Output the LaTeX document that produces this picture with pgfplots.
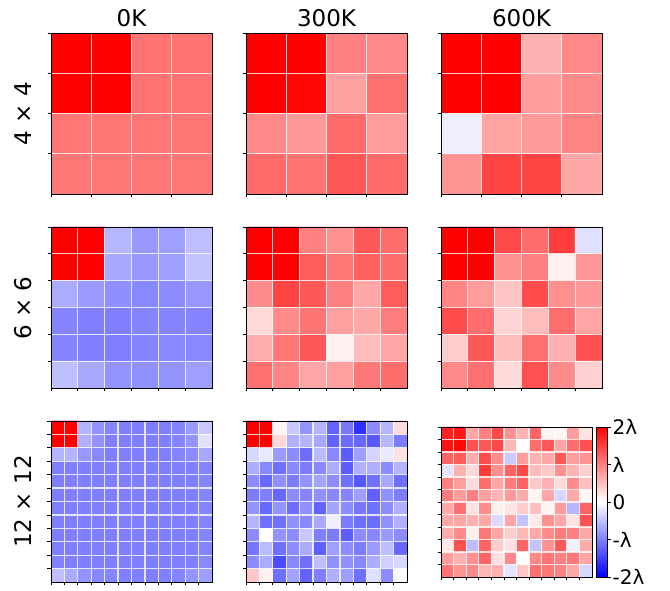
\documentclass[border=0pt]{standalone}
\usepackage{pgfplots}
\pgfplotsset{compat=1.18}
\usepackage{fontspec}
\setmainfont{DejaVu Sans}

\pgfplotsset{
  colormap={bwr}{rgb255=(0,0,255) rgb255=(255,255,255) rgb255=(255,0,0)},
  cell/.style={
    scale only axis, anchor=north west,
    width=161pt, height=161pt,
    point meta min=-2, point meta max=2,
    y dir=reverse, axis on top,
    enlargelimits=false,
    tick align=outside, tick pos=left,
    xticklabels={}, yticklabels={},
    major tick length=3.5pt,
    minor tick length=0pt,
    grid=minor,
    minor grid style={white, line width=1.3pt, opacity=0.8},
    axis line style={line width=0.8pt},
    every tick/.append style={black, line width=0.8pt},
  },
  n4/.style={xmin=-0.5, xmax=3.5, ymin=-0.5, ymax=3.5,
    xtick={-0.5,0.5,1.5,2.5}, ytick={-0.5,0.5,1.5,2.5},
    minor xtick={0.5,1.5,2.5}, minor ytick={0.5,1.5,2.5}},
  n6/.style={xmin=-0.5, xmax=5.5, ymin=-0.5, ymax=5.5,
    xtick={-0.5,0.5,...,4.5}, ytick={-0.5,0.5,...,4.5},
    minor xtick={0.5,1.5,...,4.5}, minor ytick={0.5,1.5,...,4.5}},
  n12/.style={xmin=-0.5, xmax=11.5, ymin=-0.5, ymax=11.5,
    xtick={-0.5,0.5,...,10.5}, ytick={-0.5,0.5,...,10.5},
    minor xtick={0.5,1.5,...,10.5}, minor ytick={0.5,1.5,...,10.5}},
}

% one matrix per call: values in units of lambda, listed row by row;
% row = floor((k+0.5)/n), column = k - n*row for the k-th value
\newcommand{\cells}[2]{%
  \addplot[matrix plot*, mesh/cols=#1, point meta=explicit]
    table[row sep=\\,
      y expr={floor((\coordindex+0.5)/#1)},
      x expr={\coordindex-#1*floor((\coordindex+0.5)/#1)},
      meta=c] {#2};
}

\begin{document}
\begin{tikzpicture}
\path[use as bounding box] (0,0) rectangle (670pt,591pt);

% ---------- 4 x 4 ----------
\begin{axis}[cell, n4, at={(51pt,558pt)}]
\cells{4}{c\\
2\\ 2\\ 1.1\\ 1.1\\
2\\ 2\\ 1.1\\ 1.1\\
1.08\\ 1.08\\ 1.08\\ 1.08\\
1.06\\ 1.06\\ 1.06\\ 1.06\\}
\end{axis}

\begin{axis}[cell, n4, at={(246pt,558pt)}]
\cells{4}{c\\
2\\ 2\\ 1.0\\ 0.93\\
2\\ 1.95\\ 0.75\\ 1.12\\
0.93\\ 0.8\\ 1.17\\ 0.78\\
1.17\\ 1.1\\ 1.33\\ 1.17\\}
\end{axis}

\begin{axis}[cell, n4, at={(441pt,558pt)}]
\cells{4}{c\\
2\\ 2\\ 0.62\\ 0.93\\
2\\ 2\\ 0.78\\ 0.9\\
-0.13\\ 0.72\\ 0.79\\ 0.96\\
0.84\\ 1.47\\ 1.47\\ 0.68\\}
\end{axis}

% ---------- 6 x 6 ----------
\begin{axis}[cell, n6, at={(51pt,364pt)}]
\cells{6}{c\\
2\\ 2\\ -0.56\\ -0.81\\ -0.75\\ -0.5\\
2\\ 2\\ -0.68\\ -0.81\\ -0.75\\ -0.46\\
-0.65\\ -0.78\\ -0.88\\ -0.93\\ -0.9\\ -0.81\\
-0.96\\ -1.0\\ -1.0\\ -0.96\\ -0.96\\ -0.96\\
-0.96\\ -1.0\\ -1.01\\ -0.96\\ -0.93\\ -0.93\\
-0.5\\ -0.68\\ -0.84\\ -0.87\\ -0.84\\ -0.75\\}
\end{axis}

\begin{axis}[cell, n6, at={(246pt,364pt)}]
\cells{6}{c\\
2\\ 2\\ 1.0\\ 0.87\\ 1.31\\ 1.15\\
2\\ 2\\ 1.28\\ 1.06\\ 1.25\\ 1.15\\
0.9\\ 1.47\\ 1.31\\ 1.0\\ 0.68\\ 1.28\\
0.31\\ 0.9\\ 1.09\\ 0.75\\ 0.68\\ 1.03\\
0.65\\ 1.06\\ 1.31\\ 0.12\\ 0.53\\ 0.71\\
1.12\\ 0.96\\ 0.71\\ 0.75\\ 1.06\\ 1.15\\}
\end{axis}

\begin{axis}[cell, n6, at={(441pt,364pt)}]
\cells{6}{c\\
2\\ 2\\ 1.44\\ 1.15\\ 1.53\\ -0.24\\
2\\ 2\\ 0.87\\ 1.0\\ 0.12\\ 0.81\\
0.96\\ 0.78\\ 0.46\\ 1.4\\ 0.87\\ 0.81\\
1.4\\ 1.15\\ 0.34\\ 0.53\\ 1.15\\ 0.71\\
0.4\\ 1.31\\ 0.53\\ 1.12\\ 0.62\\ 1.37\\
0.93\\ 1.12\\ 0.28\\ 1.37\\ 0.9\\ 0.37\\}
\end{axis}

% ---------- 12 x 12 ----------
\begin{axis}[cell, n12, at={(51pt,170pt)}]
\cells{12}{c\\
2\\ 2\\ -0.59\\ -0.84\\ -0.96\\ -1.0\\ -1.0\\ -1.0\\ -1.0\\ -0.96\\ -0.78\\ -0.43\\
2\\ 2\\ -0.62\\ -0.84\\ -1.0\\ -1.0\\ -1.0\\ -1.01\\ -1.0\\ -0.96\\ -0.84\\ -0.24\\
-0.59\\ -0.59\\ -0.81\\ -0.93\\ -1.0\\ -1.0\\ -1.0\\ -1.0\\ -1.0\\ -0.96\\ -0.9\\ -0.68\\
-1.0\\ -1.0\\ -1.0\\ -1.0\\ -1.0\\ -1.0\\ -1.0\\ -1.0\\ -1.0\\ -1.0\\ -1.0\\ -0.96\\
-1.0\\ -1.0\\ -1.0\\ -1.0\\ -1.0\\ -1.0\\ -1.0\\ -1.0\\ -1.0\\ -1.0\\ -1.0\\ -0.96\\
-1.0\\ -1.0\\ -1.0\\ -1.0\\ -1.0\\ -1.0\\ -1.0\\ -1.0\\ -1.0\\ -1.0\\ -1.0\\ -0.96\\
-1.0\\ -1.0\\ -1.0\\ -1.0\\ -1.0\\ -1.0\\ -1.0\\ -1.0\\ -1.0\\ -1.0\\ -1.0\\ -0.96\\
-1.0\\ -1.0\\ -1.0\\ -1.0\\ -1.0\\ -1.0\\ -1.0\\ -1.0\\ -1.0\\ -1.0\\ -1.0\\ -0.96\\
-1.0\\ -1.0\\ -1.0\\ -1.0\\ -1.0\\ -1.0\\ -1.0\\ -1.0\\ -1.0\\ -1.0\\ -1.0\\ -0.96\\
-1.0\\ -1.0\\ -1.0\\ -1.0\\ -1.0\\ -1.0\\ -1.0\\ -1.0\\ -1.0\\ -1.0\\ -1.0\\ -0.96\\
-0.98\\ -1.0\\ -1.0\\ -1.0\\ -1.0\\ -1.0\\ -1.0\\ -1.0\\ -1.0\\ -1.0\\ -1.0\\ -0.93\\
-0.5\\ -0.65\\ -0.84\\ -0.93\\ -0.96\\ -1.0\\ -1.0\\ -1.0\\ -1.0\\ -0.96\\ -0.84\\ -0.75\\}
\end{axis}

\begin{axis}[cell, n12, at={(246pt,170pt)}]
\cells{12}{c\\
2\\ 2\\ 0.09\\ -0.43\\ -0.84\\ -0.59\\ -1.22\\ -1.06\\ -1.62\\ -0.9\\ -0.56\\ 0.28\\
2\\ 2\\ 0.31\\ -0.62\\ -0.59\\ -0.68\\ -1.22\\ -1.15\\ -1.18\\ -1.31\\ -0.56\\ -1.03\\
-0.31\\ -0.18\\ -0.78\\ -0.9\\ -1.15\\ -0.53\\ -0.93\\ -1.28\\ -0.75\\ -0.34\\ -0.18\\ 0.22\\
-0.65\\ -0.93\\ -1.12\\ -0.93\\ -1.03\\ -0.93\\ -0.65\\ -1.28\\ -0.62\\ -0.62\\ -0.9\\ -0.59\\
-0.9\\ -1.18\\ -0.87\\ -1.03\\ -0.84\\ -0.71\\ -0.9\\ -1.12\\ -1.31\\ -1.12\\ -0.68\\ -1.12\\
-1.03\\ -1.0\\ -1.18\\ -0.9\\ -0.96\\ -0.87\\ -0.93\\ -0.96\\ -0.75\\ -1.25\\ -0.87\\ -1.03\\
-0.84\\ -1.18\\ -0.84\\ -1.15\\ -0.87\\ -1.22\\ -0.71\\ -0.9\\ -1.06\\ -1.12\\ -0.9\\ -0.62\\
-0.59\\ -1.12\\ -1.12\\ -0.87\\ -0.93\\ -0.68\\ -0.13\\ -1.03\\ -1.12\\ -1.15\\ -0.87\\ -0.62\\
-0.9\\ 0.0\\ -0.84\\ -0.9\\ -0.43\\ -1.0\\ -1.03\\ -1.28\\ -0.9\\ -0.93\\ -0.78\\ -0.9\\
-1.09\\ -0.53\\ -1.12\\ -0.9\\ -0.65\\ -1.25\\ -0.75\\ -0.9\\ -1.03\\ -0.78\\ -0.5\\ -1.18\\
-0.9\\ -0.65\\ -1.4\\ -0.93\\ -1.12\\ -0.5\\ -0.87\\ -0.87\\ -0.93\\ -0.65\\ -0.37\\ -0.31\\
0.43\\ 0.12\\ -1.12\\ -0.71\\ -1.22\\ -1.0\\ -0.62\\ -0.75\\ -1.12\\ -0.24\\ -0.9\\ -0.04\\}
\end{axis}

\begin{axis}[cell, n12, at={(441pt,164pt)}, width=151pt, height=150pt,
  colorbar,
  colorbar style={
    at={(parent axis.north east)}, anchor=north west, xshift=-4pt,
    width=11pt, height=150pt, scale only axis,
    ytick={-2,-1,0,1,2},
    yticklabels={-2λ,-λ,0,λ,2λ},
    yticklabel style={font=\fontsize{20}{24}\selectfont, xshift=-2pt},
    tick align=outside, ytick pos=right, yticklabel pos=right,
    major tick length=3.5pt,
    axis line style={line width=0.8pt},
    every tick/.append style={black, line width=0.8pt},
  }]
\cells{12}{c\\
1.75\\ 1.81\\ 0.68\\ 1.0\\ 1.44\\ 0.87\\ 0.59\\ 1.22\\ 0.09\\ 0.06\\ 0.78\\ 0.22\\
1.87\\ 1.94\\ 1.37\\ 1.31\\ 1.44\\ 0.56\\ 0.0\\ 1.15\\ 1.31\\ 0.71\\ 1.15\\ 1.37\\
1.22\\ 1.28\\ 0.65\\ 1.4\\ 0.9\\ -0.4\\ 0.78\\ 0.62\\ 0.68\\ 1.31\\ 0.78\\ 0.84\\
-0.21\\ 0.62\\ 0.31\\ 1.56\\ 0.87\\ 1.22\\ 1.44\\ 0.53\\ 0.43\\ 0.87\\ 0.59\\ 0.37\\
1.0\\ 0.78\\ 0.28\\ 1.15\\ 0.71\\ 1.03\\ 1.22\\ 0.43\\ 0.62\\ 0.31\\ 0.9\\ 0.5\\
1.03\\ 0.78\\ 1.0\\ 0.75\\ 0.59\\ 0.81\\ 0.65\\ 0.09\\ 0.71\\ -0.31\\ 0.68\\ 0.06\\
0.68\\ 1.12\\ 0.22\\ 0.9\\ 0.12\\ 0.22\\ 0.4\\ 0.5\\ 0.09\\ 0.78\\ -0.56\\ 1.22\\
0.68\\ 0.71\\ 0.62\\ 0.68\\ -0.28\\ 0.71\\ -0.46\\ 0.18\\ 0.87\\ 0.71\\ 0.22\\ 1.37\\
0.65\\ 0.9\\ 0.12\\ 1.06\\ 0.71\\ 0.4\\ 0.56\\ 0.68\\ 0.9\\ 1.03\\ 1.0\\ 0.68\\
0.18\\ 1.37\\ -0.5\\ 1.22\\ 0.4\\ 0.22\\ 1.22\\ -0.46\\ 0.84\\ 1.31\\ -0.12\\ 0.65\\
0.78\\ 0.62\\ 0.87\\ 1.22\\ 0.25\\ 0.93\\ 0.0\\ 0.93\\ 1.09\\ 1.0\\ 1.06\\ 0.71\\
1.09\\ 0.84\\ 0.93\\ 0.56\\ 0.62\\ -0.21\\ 0.43\\ 1.12\\ 1.06\\ 1.0\\ 0.68\\ -0.31\\}
\end{axis}

% column titles
\begin{scope}[every node/.style={font=\fontsize{23}{28}\selectfont, anchor=base, inner sep=0pt}]
\node at (131.5pt,564pt) {0K};
\node at (326.5pt,564pt) {300K};
\node at (521.5pt,564pt) {600K};
\end{scope}

% row labels
\begin{scope}[every node/.style={font=\fontsize{23}{28}\selectfont, anchor=base, rotate=90, inner sep=0pt}]
\node at (31pt,477.5pt) {4 × 4};
\node at (31pt,283pt) {6 × 6};
\node at (31pt,89.5pt) {12 × 12};
\end{scope}
\end{tikzpicture}
\end{document}
